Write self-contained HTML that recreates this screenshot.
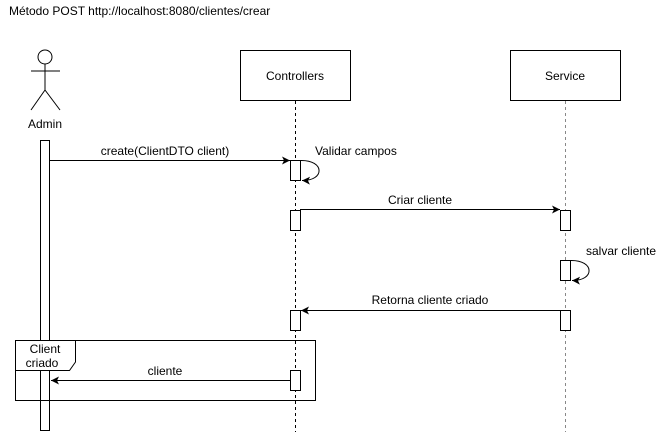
<!DOCTYPE html>
<html><head><style>body{margin:0;background:#fff}svg{display:block}</style></head><body>
<svg width="666" height="432" xmlns="http://www.w3.org/2000/svg" font-family="Liberation Sans, Arial, sans-serif" font-size="12">
<defs><marker id="a" markerWidth="10" markerHeight="10" refX="8" refY="5" orient="auto" markerUnits="userSpaceOnUse"><path d="M0,1 L8,5 L0,9 L2,5 z" fill="#000"/></marker></defs>
<text x="9" y="15" font-size="12">Método POST http://localhost:8080/clientes/crear</text>
<!-- actor -->
<circle cx="45" cy="57" r="7" fill="#fff" stroke="#000"/>
<line x1="45" y1="64" x2="45" y2="90" stroke="#000"/>
<line x1="31" y1="71" x2="60" y2="71" stroke="#000"/>
<line x1="45" y1="90" x2="31" y2="110" stroke="#000"/>
<line x1="45" y1="90" x2="60" y2="110" stroke="#000"/>
<text x="45" y="128" text-anchor="middle">Admin</text>
<rect x="40.5" y="140.5" width="9" height="290" fill="#fff" stroke="#000"/>
<!-- boxes -->
<rect x="240.5" y="50.5" width="110" height="50" fill="#fff" stroke="#000"/>
<text x="295" y="80" text-anchor="middle">Controllers</text>
<rect x="510.5" y="50.5" width="110" height="50" fill="#fff" stroke="#000"/>
<text x="565" y="80" text-anchor="middle">Service</text>
<line x1="295.5" y1="101" x2="295.5" y2="432" stroke="#000" stroke-dasharray="3,3"/>
<line x1="565.5" y1="101" x2="565.5" y2="432" stroke="#888" stroke-dasharray="3,3"/>
<!-- frame -->
<rect x="15.5" y="340.5" width="300" height="60" fill="none" stroke="#000"/>
<path d="M15.5,340.5 H75.5 V362 L69.5,370.5 H15.5 Z" fill="#fff" stroke="#000"/>
<text x="45" y="353" text-anchor="middle">Client</text>
<text x="42" y="367" text-anchor="middle">criado</text>
<!-- activations -->
<g fill="#fff" stroke="#000">
<rect x="290.5" y="160.5" width="10" height="20"/>
<rect x="290.5" y="210.5" width="10" height="20"/>
<rect x="290.5" y="310.5" width="10" height="20"/>
<rect x="290.5" y="370.5" width="10" height="20"/>
<rect x="560.5" y="210.5" width="10" height="20"/>
<rect x="560.5" y="260.5" width="10" height="20"/>
<rect x="560.5" y="310.5" width="10" height="20"/>
</g>
<!-- messages -->
<g stroke="#000" fill="none">
<line x1="50" y1="160.5" x2="290" y2="160.5" marker-end="url(#a)"/>
<path d="M300.5,160.5 C325,160 325,181 302,180.5" marker-end="url(#a)"/>
<line x1="300" y1="209.5" x2="560" y2="209.5" marker-end="url(#a)"/>
<path d="M570.5,260.5 C595,260 595,281 572,280.5" marker-end="url(#a)"/>
<line x1="560" y1="310.5" x2="301" y2="310.5" marker-end="url(#a)"/>
<line x1="290" y1="380.5" x2="51" y2="380.5" marker-end="url(#a)"/>
</g>
<text x="165" y="155" text-anchor="middle">create(ClientDTO client)</text>
<text x="315" y="155">Validar campos</text>
<text x="420" y="204" text-anchor="middle">Criar cliente</text>
<text x="586" y="255">salvar cliente</text>
<text x="430" y="304" text-anchor="middle">Retorna cliente criado</text>
<text x="165" y="375" text-anchor="middle">cliente</text>
</svg>
</body></html>
